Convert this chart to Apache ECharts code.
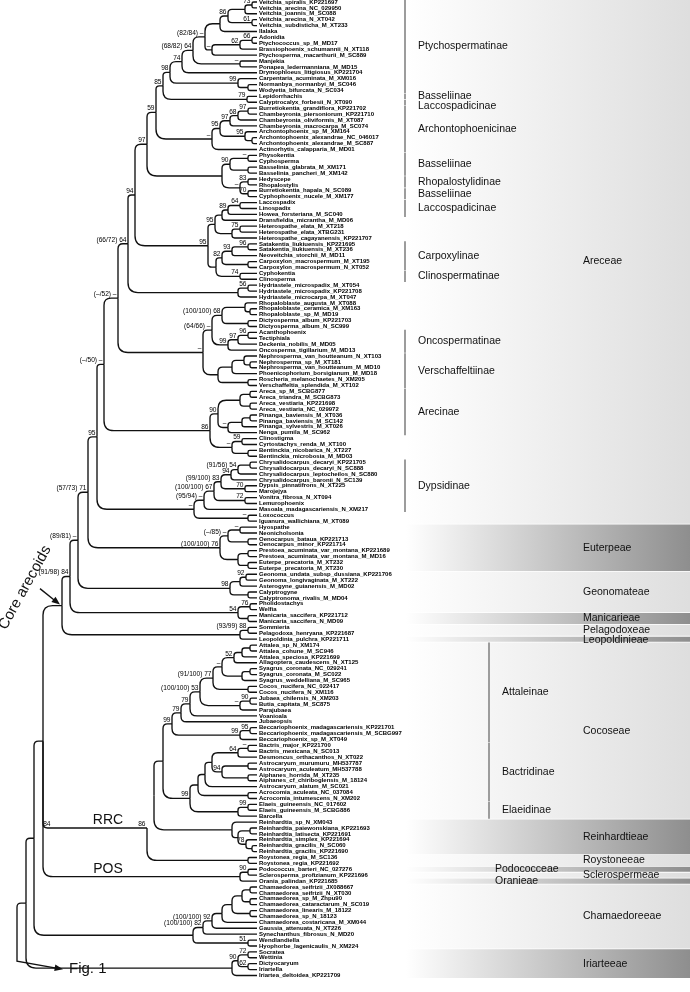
<!DOCTYPE html>
<html><head><meta charset="utf-8">
<script src="https://cdn.jsdelivr.net/npm/echarts@6/dist/echarts.min.js"></script>
<style>html,body{margin:0;padding:0;background:#fff}#c{width:690px;height:992px}</style>
</head><body><div id="c"></div>
<script>
const leafNames = [
'Veitchia_spiralis_KP221697','Veitchia_arecina_NC_029950','Veitchia_joannis_M_SC088','Veitchia_arecina_N_XT042','Veitchia_subdisticha_M_XT233',
'Ilalaka','Adonidia','Ptychococcus_sp_M_MD17','Brassiophoenix_schumannii_N_XT118','Ptychosperma_macarthurii_M_SC889',
'Manjekia','Ponapea_ledermanniana_M_MD15','Drymophloeus_litigiosus_KP221704','Carpentaria_acuminata_M_XM016','Normanbya_normanbyi_M_SC046',
'Wodyetia_bifurcata_N_SC034','Lepidorrhachis','Calyptrocalyx_forbesii_N_XT090','Burretiokentia_grandiflora_KP221702','Chambeyronia_piersoniorum_KP221710',
'Chambeyronia_oliviformis_M_XT087','Chambeyronia_macrocarpa_M_SC074','Archontophoenix_sp_M_XM164','Archontophoenix_alexandrae_NC_046017','Archontophoenix_alexandrae_M_SC887',
'Actinorhytis_calapparia_M_MD01','Physokentia','Cyphosperma','Basselinia_glabrata_M_XM171','Basselinia_pancheri_M_XM142',
'Hedyscepe','Rhopalostylis','Burretiokentia_hapala_N_SC089','Cyphophoenix_nucele_M_XM177','Laccospadix',
'Linospadix','Howea_forsteriana_M_SC040','Dransfieldia_micrantha_M_MD06','Heterospathe_elata_M_XT218','Heterospathe_elata_XTBG231',
'Heterospathe_cagayanensis_KP221707','Satakentia_liukiuensis_KP221695','Satakentia_liukiuensis_M_XT236','Neoveitchia_storchii_M_MD11','Carpoxylon_macrospermum_M_XT195',
'Carpoxylon_macrospermum_N_XT052','Cyphokentia','Clinosperma','Hydriastele_microspadix_M_XT054','Hydriastele_microspadix_KP221708',
'Hydriastele_microcarpa_M_XT047','Rhopaloblaste_augusta_M_XT088','Rhopaloblaste_ceramica_M_XM163','Rhopaloblaste_sp_M_MD19','Dictyosperma_album_KP221703',
'Dictyosperma_album_N_SC999','Acanthophoenix','Tectiphiala','Deckenia_nobilis_M_MD05','Oncosperma_tigillarium_M_MD13',
'Nephrosperma_van_houtteanum_N_XT103','Nephrosperma_sp_M_XT181','Nephrosperma_van_houtteanum_M_MD10','Phoenicophorium_borsigianum_M_MD18','Roscheria_melanochaetes_N_XM205',
'Verschaffeltia_splendida_M_XT102','Areca_sp_M_SCBG877','Areca_triandra_M_SCBG873','Areca_vestiaria_KP221698','Areca_vestiaria_NC_029972',
'Pinanga_baviensis_M_XT036','Pinanga_baviensis_M_SC142','Pinanga_sylvestris_M_XT026','Nenga_pumila_M_SC962','Clinostigma',
'Cyrtostachys_renda_M_XT100','Bentinckia_nicobarica_N_XT227','Bentinckia_microbosia_M_MD03','Chrysalidocarpus_decaryi_KP221705','Chrysalidocarpus_decaryi_N_SC888',
'Chrysalidocarpus_leptocheilos_N_SC880','Chrysalidocarpus_baronii_N_SC139','Dypsis_pinnatifrons_N_XT225','Marojejya','Vonitra_fibrosa_N_XT094',
'Lemurophoenix','Masoala_madagascariensis_N_XM217','Loxococcus','Iguanura_wallichiana_M_XT089','Hyospathe',
'Neonicholsonia','Oenocarpus_bataua_KP221713','Oenocarpus_minor_KP221714','Prestoea_acuminata_var_montana_KP221689','Prestoea_acuminata_var_montana_M_MD16',
'Euterpe_precatoria_M_XT232','Euterpe_precatoria_M_XT230','Geonoma_undata_subsp_dussiana_KP221706','Geonoma_longivaginata_M_XT222','Asterogyne_guianensis_M_MD02',
'Calyptrogyne','Calyptronoma_rivalis_M_MD04','Pholidostachys','Welfia','Manicaria_saccifera_KP221712',
'Manicaria_saccifera_N_MD09','Sommieria','Pelagodoxa_henryana_KP221687','Leopoldinia_pulchra_KP221711','Attalea_sp_N_XM174',
'Attalea_cohune_M_SC946','Attalea_speciosa_KP221699','Allagoptera_caudescens_N_XT125','Syagrus_coronata_NC_029241','Syagrus_coronata_M_SC022',
'Syagrus_weddelliana_M_SC965','Cocos_nucifera_NC_022417','Cocos_nucifera_N_XM116','Jubaea_chilensis_N_XM203','Butia_capitata_M_SC875',
'Parajubaea','Voanioala','Jubaeopsis','Beccariophoenix_madagascariensis_KP221701','Beccariophoenix_madagascariensis_M_SCBG997',
'Beccariophoenix_sp_M_XT049','Bactris_major_KP221700','Bactris_mexicana_N_SC013','Desmoncus_orthacanthos_N_XT022','Astrocaryum_murumuru_MH537787',
'Astrocaryum_aculeatum_MH537788','Aiphanes_horrida_M_XT235','Aiphanes_cf_chiriboglensis_M_18124','Astrocaryum_alatum_M_SC021','Acrocomia_aculeata_NC_037084',
'Acrocomia_intumescens_N_XM202','Elaeis_guineensis_NC_017602','Elaeis_guineensis_M_SCBG886','Barcella','Reinhardtia_sp_N_XM043',
'Reinhardtia_paiewonskiana_KP221693','Reinhardtia_latisecta_KP221691','Reinhardtia_simplex_KP221694','Reinhardtia_gracilis_N_SC060','Reinhardtia_gracilis_KP221690',
'Roystonea_regia_M_SC136','Roystonea_regia_KP221692','Podococcus_barteri_NC_027276','Sclerosperma_profizianum_KP221696','Orania_palindan_KP221685',
'Chamaedorea_seifrizii_JX088667','Chamaedorea_seifrizii_N_XT030','Chamaedorea_sp_M_Zhpu90','Chamaedorea_cataractarum_N_SC019','Chamaedorea_linearis_M_18122',
'Chamaedorea_sp_N_18123','Chamaedorea_costaricana_M_XM044','Gaussia_attenuata_N_XT226','Synechanthus_fibrosus_N_MD20','Wendlandiella',
'Hyophorbe_lagenicaulis_N_XM224','Socratea','Wettinia','Dictyocaryum','Iriartella','Iriartea_deltoidea_KP221709'
];
// common tip depth (leaves aligned)
const tipDepth = 257;

// clades: (a,b)[support|node depth|id]; numbers = leaf order (1-based)
const cladePtycho = "((((((1,2)[73|252],3)[|245],(4,5)[61|252])[86|228],6)[|220],(((7,8)[66|252],9)[62|240],10)[–|212])[(82/84) –|205],(11,12)[–|240])[(68/82) 64|193]";
const cladeCalyp = "(17,18)[79|247]";
const cladeArchonto = "(((((19,20)[97|248],21)[68|238],22)[97|230],(23,(24,25)[|252])[95|245])[95|220],26)[–|212]";
const cladeBass = "(((27,28)[–|248],(29,30)[|248])[90|230],((31,32)[83|248],(33,34)[70|248])[–|240])[|222]";
const cladeLaccoHetero = "((((35,36)[64|240],37)[89|228],38)[|222],((39,40)[75|240],41)[|232])[95|215]";
const cladeCarpClino = "((((42,43)[96|248],44)[93|232],(45,46)[|248])[82|222],(47,48)[74|240])[|216]";
const cladeHydri = "((49,50)[56|248],51)[|238]";
const cladeRhopOnco = "(((52,(53,54)[|250])[|245],(55,56)[|248])[(100/100) 68|222],(((57,58)[96|248],59)[97|238],60)[99|228])[(64/66) –|212]";
const cladeVersch = "(((61,(62,63)[|250])[|244],64)[|232],(65,66)[|248])[|218]";
const cladeArecinae = "(((67,68)[|250],(69,70)[|250])[|240],(((71,72)[|250],73)[|242],74)[–|228])[90|218]";
const cladeClinostigma = "((75,76)[59|242],(77,78)[|248])[–|232]";
const cladeDypsis = "((((((79,80)[|250],81)[(91/56) 54|238],82)[94|231],(83,84)[70|245])[(99/100) 83|221],(85,86)[72|245])[(100/100) 67|214],87)[(95/94) –|204]";
const cladeLoxo = "(88,89)[–|248]";
const cladeEuterpeae = "(((90,91)[–|240],(92,93)[|248])[(–/85) –|228],((94,95)[|248],(96,97)[|248])[|238])[(100/100) 76|220]";
const cladeGeonomateae = "(((98,99)[92|246],100)[|240],(101,102)[|248])[98|230]";
const cladeManicarieae = "((103,104)[76|250],(105,106)[|248])[54|238]";
const cladePelagoLeopo = "((107,108)[(93/99) 88|248],109)[|240]";
const cladeAttalea = "((((110,111)[|250],112)[|242],113)[52|234],((114,115)[|250],116)[|242])[–|222]";
const cladeJubaea = "((119,120)[90|250],121)[–|240]";
const cladeBecc = "((124,125)[95|250],126)[99|240]";
const cladeBact = "(((((127,128)[–|248],129)[64|238],((130,131)[|248],(132,133)[|248])[94|222])[|212],134)[|205],(135,136)[|248])[|198]";
const cladeElae = "((137,138)[99|248],139)[|238]";
const cladeRein = "(140,((141,142)[|250],(143,(144,145)[|252])[78|246])[|238])[|232]";
const cladeRoyst = "(146,147)[|248]";
const cladePOS = "((148,149)[90|248],150)[|240|POS]";
const cladeChamaedoreeae = "(((((((151,152)[|250],(153,154)[|250])[|242],(155,156)[|250])[|232],157)[|222],158)[(100/100) 92|212],159)[(100/100) 82|203],(160,161)[51|248])[|193]";
const cladeIriarteeae = "(((162,163)[72|248],(164,165)[62|248])[90|238],166)[|232]";

const attaleinae = `((((((${cladeAttalea},(117,118)[|248])[(91/100) 77|213],${cladeJubaea})[(100/100) 53|200],122)[79|190],123)[79|181],${cladeBecc})[99|172]`;
const cocoseae = `(${attaleinae},(${cladeBact},${cladeElae})[99|190])[|163]`;
const rrc = `(((${cocoseae},${cladeRein})[|154]),${cladeRoyst})[86|147|RRC]`;
const areceaeTop = `((((((${cladePtycho},13)[74|182],(14,(15,16)[|248])[99|238])[98|170],${cladeCalyp})[85|163],${cladeArchonto})[59|156],${cladeBass})[97|147]`;
const areceae66 = `((${areceaeTop},(${cladeLaccoHetero},${cladeCarpClino})[95|208])[94|135],${cladeHydri})[(66/72) 64|128]`;
const areceae50 = `((${areceae66},(${cladeRhopOnco},${cladeVersch})[–|203])[(–/52) –|118],(${cladeArecinae},${cladeClinostigma})[86|210])[(–/50) –|104]`;
const areceae = `(${areceae50},(${cladeDypsis},${cladeLoxo})[–|194])[95|97]`;
const coreArecoids = `((((${areceae},${cladeEuterpeae})[(57/73) 71|88],${cladeGeonomateae})[(89/81) –|78],${cladeManicarieae})[(91/98) 84|70],${cladePelagoLeopo})[|62|CA]`;
const treeRoot = `((((${coreArecoids},${rrc})[84|52],${cladePOS})[|43],${cladeChamaedoreeae})[|34],${cladeIriarteeae})[|26|ROOT]`;

const subtribes = [
 ['Ptychospermatinae',1,16],['Basseliinae',17,17],['Laccospadicinae',18,18],['Archontophoenicinae',19,26],
 ['Basseliinae',27,30],['Rhopalostylidinae',31,32],['Basseliinae',33,34],['Laccospadicinae',35,37],
 ['Carpoxylinae',42,46],['Clinospermatinae',47,48],['Oncospermatinae',57,60],['Verschaffeltiinae',61,66],
 ['Arecinae',67,74],['Dypsidinae',79,87]
];
const cocoseaeSubtribes = [['Attaleinae',110,126],['Bactridinae',127,136],['Elaeidinae',137,139]];
const tribes = [
 ['Areceae',1,89],['Euterpeae',90,97],['Geonomateae',98,104],['Manicarieae',105,106],['Pelagodoxeae',107,108],
 ['Leopoldinieae',109,109],['Cocoseae',110,139],['Reinhardtieae',140,145],['Roystoneeae',146,147],['Podococceae',148,148],
 ['Sclerospermeae',149,149],['Oranieae',150,150],['Chamaedoreeae',151,161],['Iriarteeae',162,166]
];
const leftColumnTribes = ['Podococceae','Oranieae'];

// ---------- parse & layout ----------
function parseTree(s){
  let i=0;
  function node(){
    if(s[i]==='('){
      i++; const children=[node()];
      while(s[i]===','){i++;children.push(node());}
      i++; // ')'
      let meta='';
      if(s[i]==='['){i++; while(s[i]!==']') meta+=s[i++]; i++;}
      const p=meta.split('|');
      return {children, label:p[0]||'', x:parseFloat(p[1]), id:p[2]||''};
    }
    let num=''; while(/[0-9]/.test(s[i])) num+=s[i++];
    return {leaf:parseInt(num,10)-1};
  }
  return node();
}
const root=parseTree(treeRoot);
const nodes=[], edges=[], named={};
(function lay(n){
  if(n.leaf!==undefined){n.x=tipDepth;n.y=n.leaf;return;}
  n.children.forEach(lay);
  n.y=(n.children[0].y+n.children[n.children.length-1].y)/2;
  nodes.push(n); if(n.id) named[n.id]=n;
  n.children.forEach(c=>edges.push([n.x,n.y,c.x,c.y]));
})(root);
const labelled=nodes.filter(n=>n.label);

const FONT='Liberation Sans, Arial, sans-serif';
const X_BAR=405, X_SUB=418, X_TRIBE=583, X_TRIBE_LEFT=495, X_CBAR=489, X_CSUB=502, X_BAND0=406, X_BAND1=690;

function relax(list,gap){ for(let i=1;i<list.length;i++){ if(list[i].c<list[i-1].c+gap) list[i].c=list[i-1].c+gap; } return list; }
const subItems=relax(subtribes.map(s=>({name:s[0],a:s[1]-1,b:s[2]-1,c:(s[1]+s[2])/2-1})),1.6);
const csubItems=cocoseaeSubtribes.map(s=>({name:s[0],a:s[1]-1,b:s[2]-1,c:(s[1]+s[2])/2-1}));
const tribeAll=tribes.map((t,k)=>({name:t[0],a:t[1]-1,b:t[2]-1,c:(t[1]+t[2])/2-1,k,left:leftColumnTribes.indexOf(t[0])>=0}));
relax(tribeAll.filter(t=>!t.left),1.6);

function arrowHead(tip,from,size){
  const a=Math.atan2(tip[1]-from[1],tip[0]-from[0]);
  return {type:'polygon',shape:{points:[tip,
    [tip[0]-size*Math.cos(a-0.38),tip[1]-size*Math.sin(a-0.38)],
    [tip[0]-size*Math.cos(a+0.38),tip[1]-size*Math.sin(a+0.38)]]},style:{fill:'#111'}};
}
const txt=(x,y,text,size,align,vAlign,extra)=>Object.assign({type:'text',x,y,style:{text,font:size+'px '+FONT,fill:'#111',align,verticalAlign:vAlign}},extra||{});

const chart=echarts.init(document.getElementById('c'));
chart.setOption({
  animation:false,
  grid:{left:0,right:0,top:0,bottom:0},
  xAxis:{type:'value',min:0,max:690,show:false},
  yAxis:{type:'value',min:-0.339,max:167.8,inverse:true,show:false},
  series:[
    { // tribe bands + labels
      type:'custom',coordinateSystem:'cartesian2d',clip:false,z:1,
      data:tribeAll.map(t=>[t.a,t.b]),
      renderItem:(params,api)=>{
        const t=tribeAll[params.dataIndex];
        const p0=api.coord([X_BAND0,t.a-0.5]), p1=api.coord([X_BAND1,t.b+0.5]);
        const pc=api.coord([t.left?X_TRIBE_LEFT:X_TRIBE,t.c]);
        const dark=t.k%2===1;
        return {type:'group',children:[
          {type:'rect',shape:{x:p0[0],y:p0[1]+0.4,width:p1[0]-p0[0],height:p1[1]-p0[1]-0.8},
            style:{fill:new echarts.graphic.LinearGradient(0,0,1,0,[{offset:0,color:'#ffffff'},{offset:1,color:dark?'#8e8e8e':'#dedede'}])}},
          txt(pc[0],pc[1],t.name,10.5,'left','middle',{z2:10})
        ]};
      }
    },
    { // subtribe bars + labels
      type:'custom',coordinateSystem:'cartesian2d',clip:false,z:3,
      data:subItems.map(s=>[s.a,s.b]),
      renderItem:(params,api)=>{
        const s=subItems[params.dataIndex];
        const p0=api.coord([X_BAR,s.a-0.45]), p1=api.coord([X_BAR,s.b+0.45]), pc=api.coord([X_SUB,s.c]);
        return {type:'group',children:[
          {type:'rect',shape:{x:p0[0]-1,y:p0[1],width:2,height:p1[1]-p0[1]},style:{fill:'#9c9c9c'}},
          txt(pc[0],pc[1],s.name,10.5,'left','middle')
        ]};
      }
    },
    { // cocoseae subtribes
      type:'custom',coordinateSystem:'cartesian2d',clip:false,z:3,
      data:csubItems.map(s=>[s.a,s.b]),
      renderItem:(params,api)=>{
        const s=csubItems[params.dataIndex];
        const p0=api.coord([X_CBAR,s.a-0.45]), p1=api.coord([X_CBAR,s.b+0.45]), pc=api.coord([X_CSUB,s.c]);
        return {type:'group',children:[
          {type:'rect',shape:{x:p0[0]-1,y:p0[1],width:2,height:p1[1]-p0[1]},style:{fill:'#9c9c9c'}},
          txt(pc[0],pc[1],s.name,10.5,'left','middle')
        ]};
      }
    },
    { // branches
      type:'custom',coordinateSystem:'cartesian2d',clip:false,z:5,
      data:edges,
      renderItem:(params,api)=>{
        const p=api.coord([api.value(0),api.value(1)]), c=api.coord([api.value(2),api.value(3)]);
        const dy=c[1]-p[1], dx=c[0]-p[0];
        let d;
        if(Math.abs(dy)<0.01){ d=`M${p[0]} ${p[1]}L${c[0]} ${c[1]}`; }
        else{
          const r=Math.min(10,Math.abs(dy)*0.6,dx*0.5); const s=dy>0?1:-1;
          d=`M${p[0]} ${p[1]}L${p[0]} ${c[1]-s*r}Q${p[0]} ${c[1]} ${p[0]+r} ${c[1]}L${c[0]} ${c[1]}`;
        }
        return {type:'path',shape:{pathData:d},style:{fill:'none',stroke:'#111',lineWidth:1.35}};
      }
    },
    { // leaf labels
      type:'custom',coordinateSystem:'cartesian2d',clip:false,z:6,
      data:leafNames.map((_,i)=>[tipDepth,i]),
      renderItem:(params,api)=>{
        const p=api.coord([api.value(0),api.value(1)]);
        return {type:'text',x:p[0]+2,y:p[1],style:{text:leafNames[params.dataIndex],font:'bold 6px '+FONT,fill:'#000',align:'left',verticalAlign:'middle'}};
      }
    },
    { // support values
      type:'custom',coordinateSystem:'cartesian2d',clip:false,z:6,
      data:labelled.map(n=>[n.x,n.y]),
      renderItem:(params,api)=>{
        const p=api.coord([api.value(0),api.value(1)]);
        return {type:'text',x:p[0]-1.5,y:p[1]-0.4,style:{text:labelled[params.dataIndex].label,font:'6.6px '+FONT,fill:'#000',align:'right',verticalAlign:'bottom'}};
      }
    },
    { // annotations attached to named nodes
      type:'custom',coordinateSystem:'cartesian2d',clip:false,z:7,
      data:[[named.ROOT.x,named.ROOT.y]],
      renderItem:(params,api)=>{
        const R=api.coord([named.ROOT.x,named.ROOT.y]);
        const CA=api.coord([named.CA.x,named.CA.y]);
        const rr=api.coord([named.RRC.x,named.RRC.y]);
        const po=api.coord([named.POS.x,named.POS.y]);
        const figTail=[R[0]-9,R[1]+58], figTip=[R[0]+37,R[1]+66];
        const caTail=[CA[0]-22,CA[1]-17], caTip=[CA[0]-2,CA[1]-1];
        return {type:'group',children:[
          {type:'path',shape:{pathData:`M${R[0]} ${R[1]}L${R[0]-5} ${R[1]}Q${R[0]-9} ${R[1]} ${R[0]-9} ${R[1]+4}L${figTail[0]} ${figTail[1]}L${figTip[0]-4} ${figTip[1]-0.6}`},style:{fill:'none',stroke:'#111',lineWidth:1.35}},
          arrowHead(figTip,figTail,9),
          txt(figTip[0]+6,figTip[1],'Fig. 1',15,'left','middle'),
          {type:'line',shape:{x1:caTail[0],y1:caTail[1],x2:caTip[0]-4,y2:caTip[1]-3.2},style:{stroke:'#111',lineWidth:1.35}},
          arrowHead(caTip,caTail,9),
          txt(CA[0]-37,CA[1]-18,'Core arecoids',15,'center','middle',{rotation:61*Math.PI/180}),
          txt(108,rr[1]-1,'RRC',14,'center','bottom'),
          txt(108,po[1]-1,'POS',14,'center','bottom')
        ]};
      }
    }
  ]
});
</script></body></html>
